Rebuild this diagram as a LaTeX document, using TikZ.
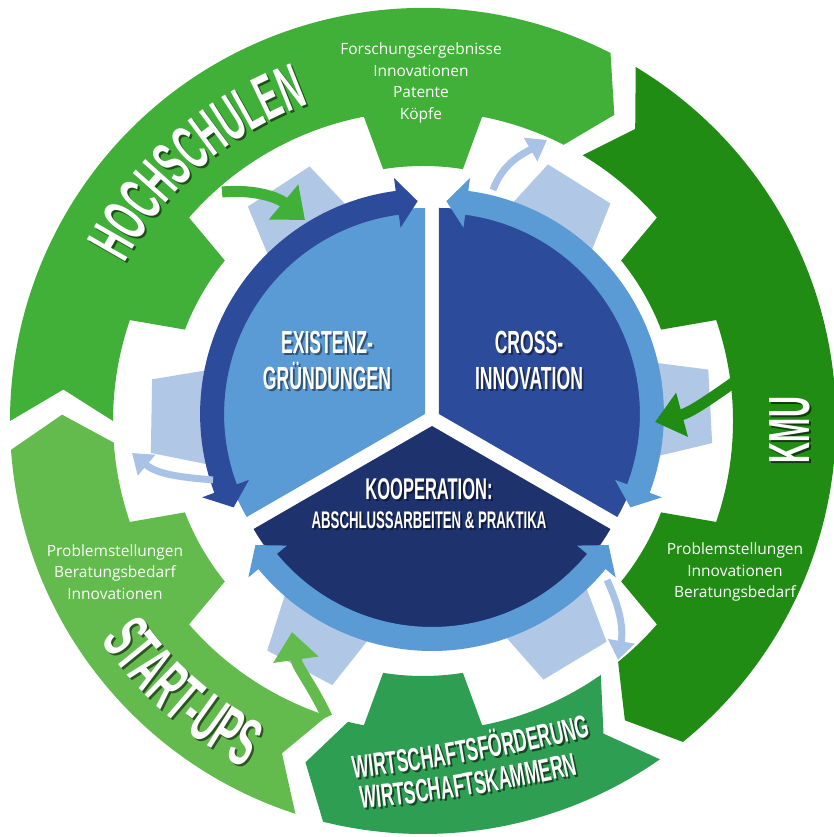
\documentclass[tikz,border=0pt]{standalone}
\usepackage{fontspec}
\setmainfont{Open Sans}
\newfontfamily\osans{Open Sans}
\newfontfamily\bebas[FakeStretch=0.5]{Liberation Sans}
\newfontfamily\bebasw[FakeStretch=0.55]{Liberation Sans}
\usetikzlibrary{arrows.meta,decorations.text}
\definecolor{hoch}{RGB}{64,176,56}
\definecolor{kmu}{RGB}{32,140,20}
\definecolor{wirt}{RGB}{46,158,82}
\definecolor{start}{RGB}{98,187,76}
\definecolor{gear}{RGB}{176,199,230}
\definecolor{lblue}{RGB}{91,155,213}
\definecolor{mblue}{RGB}{45,75,155}
\definecolor{dblue}{RGB}{30,50,110}
\definecolor{arrblue}{RGB}{168,195,230}
\begin{document}
\begin{tikzpicture}[x=1pt,y=1pt,
  small/.style={font=\osans\fontsize{15.5}{21.7}\selectfont, text=white, align=center},
  innertxt/.style={font=\bebasw\bfseries\fontsize{32}{36}\selectfont, text=white, align=center},
  shd/.style={text=black, opacity=0.45},
  garrow/.style={line width=11pt, -{Triangle[width=44pt,length=28pt]}},
  barrow/.style={line width=7pt, arrblue, -{Triangle[width=26pt,length=19pt]}}]
\useasboundingbox (0,0) rectangle (833,837);
\fill[white] (0,0) rectangle (833,837);

% ---------- outer ring (five arrow segments) ----------
\begin{scope}[shift={(423,416)}]
\fill[hoch] (63:413) arc[start angle=63,end angle=180,radius=413] -- (175:361) -- (180:310)
 arc[start angle=180,end angle=161,radius=310] -- (159:255)
 arc[start angle=159,end angle=141,radius=255] -- (139:310)
 arc[start angle=139,end angle=101,radius=310] -- (99:255)
 arc[start angle=99,end angle=81,radius=255] -- (79:310)
 arc[start angle=79,end angle=63,radius=310] -- (58:361) -- cycle;
\fill[kmu] (-51:413) arc[start angle=-51,end angle=59,radius=413] -- (54:361) -- (59:310)
 arc[start angle=59,end angle=41,radius=310] -- (39:255)
 arc[start angle=39,end angle=21,radius=255] -- (19:310)
 arc[start angle=19,end angle=-19,radius=310] -- (-21:255)
 arc[start angle=-21,end angle=-39,radius=255] -- (-41:310)
 arc[start angle=-41,end angle=-51,radius=310] -- (-56:361) -- cycle;
\fill[wirt] (256:413) arc[start angle=256,end angle=305,radius=413] -- (300:361) -- (305:310)
 arc[start angle=305,end angle=281,radius=310] -- (279:255)
 arc[start angle=279,end angle=261,radius=255] -- (259:310)
 arc[start angle=259,end angle=256,radius=310] -- (251:361) -- cycle;
\fill[start] (184:413) arc[start angle=184,end angle=252,radius=413] -- (247:361) -- (252:310)
 arc[start angle=252,end angle=221,radius=310] -- (219:255)
 arc[start angle=219,end angle=201,radius=255] -- (199:310)
 arc[start angle=199,end angle=184,radius=310] -- (179:361) -- cycle;

% curved titles
\begin{scope}[shift={(2,-2)}]
\path[decorate, decoration={text along path, text align=center, text color=hoch!45!black,
  text={|\bebas\bfseries\fontsize{64}{64}\selectfont|HOCHSCHULEN}}]
  (160:337) arc[start angle=160,end angle=102,radius=337];
\path[decorate, decoration={text along path, text align=center, text color=start!45!black,
  text={|\bebas\bfseries\fontsize{68}{68}\selectfont|START-UPS}}]
  (198:390) arc[start angle=198,end angle=259,radius=390];
\end{scope}
\path[decorate, decoration={text along path, text align=center, text color=white,
  text={|\bebas\bfseries\fontsize{64}{64}\selectfont|HOCHSCHULEN}}]
  (160:337) arc[start angle=160,end angle=102,radius=337];
\path[decorate, decoration={text along path, text align=center, text color=white,
  text={|\bebas\bfseries\fontsize{68}{68}\selectfont|START-UPS}}]
  (198:390) arc[start angle=198,end angle=259,radius=390];
\end{scope}

% WIRTSCHAFT lines, gently curved
\begin{scope}[shift={(160.4,1848.6)}]
\path[decorate, decoration={text along path, text align=center, text color=wirt!45!black,
  text={|\bebasw\bfseries\fontsize{32}{32}\selectfont|WIRTSCHAFTSFÖRDERUNG}}]
  ([shift={(2,-2)}]-86:1800) arc[start angle=-86,end angle=-74,radius=1800];
\path[decorate, decoration={text along path, text align=center, text color=white,
  text={|\bebasw\bfseries\fontsize{32}{32}\selectfont|WIRTSCHAFTSFÖRDERUNG}}]
  (-86:1800) arc[start angle=-86,end angle=-74,radius=1800];
\end{scope}
\begin{scope}[shift={(188.4,1819.8)}]
\path[decorate, decoration={text along path, text align=center, text color=wirt!45!black,
  text={|\bebasw\bfseries\fontsize{32}{32}\selectfont|WIRTSCHAFTSKAMMERN}}]
  ([shift={(2,-2)}]-87:1800) arc[start angle=-87,end angle=-75,radius=1800];
\path[decorate, decoration={text along path, text align=center, text color=white,
  text={|\bebasw\bfseries\fontsize{32}{32}\selectfont|WIRTSCHAFTSKAMMERN}}]
  (-87:1800) arc[start angle=-87,end angle=-75,radius=1800];
\end{scope}

% ---------- light blue gear ----------
\begin{scope}[shift={(431,416)}]
\foreach \t in {3,58,123,179,242,301}
  \fill[gear] ({\t-16}:195) -- ({\t-7.5}:282) -- ({\t+7.5}:282) -- ({\t+16}:195) -- cycle;
\end{scope}
\fill[white] (432,419) circle[radius=224];

% ---------- inner circle: three sectors ----------
\begin{scope}[shift={(432,419)}]
\begin{scope}[shift={(150:8)}]
\fill[lblue] (0,0) -- (90:206) arc[start angle=90,end angle=210,radius=206] -- cycle;
\fill[mblue] (97.5:225) arc[start angle=97.5,end angle=200.5,radius=225] -- (200.5:238) -- (206:213)
 -- (200.5:188) -- (200.5:201) arc[start angle=200.5,end angle=97.5,radius=201] -- (97.5:188)
 -- (92:213) -- (97.5:238) -- cycle;
\end{scope}
\begin{scope}[shift={(30:8)}]
\fill[mblue] (0,0) -- (-30:206) arc[start angle=-30,end angle=90,radius=206] -- cycle;
\fill[lblue] (82.5:225) arc[start angle=82.5,end angle=-20.5,radius=225] -- (-20.5:238) -- (-26:213)
 -- (-20.5:188) -- (-20.5:201) arc[start angle=-20.5,end angle=82.5,radius=201] -- (82.5:188)
 -- (88:213) -- (82.5:238) -- cycle;
\end{scope}
\begin{scope}[shift={(270:8)}]
\fill[dblue] (0,0) -- (210:206) arc[start angle=210,end angle=330,radius=206] -- cycle;
\fill[lblue] (219.5:225) arc[start angle=219.5,end angle=320.5,radius=225] -- (320.5:238) -- (326:213)
 -- (320.5:188) -- (320.5:201) arc[start angle=320.5,end angle=219.5,radius=201] -- (219.5:188)
 -- (214:213) -- (219.5:238) -- cycle;
\end{scope}
\end{scope}

% ---------- connectors ----------
\coordinate (h1) at (222,645); \coordinate (h2) at (305,617);
\coordinate (k1) at (740,459); \coordinate (k2) at (655,415);
\coordinate (s1) at (327,120); \coordinate (s2) at (292,205);
\coordinate (b1) at (493,647); \coordinate (b2) at (547,697);
\coordinate (c1) at (213,357); \coordinate (c2) at (132,384);
\coordinate (d1) at (607,257); \coordinate (d2) at (618,177);
\draw[garrow, hoch] (h1) to[out=5, in=140] (h2);
\draw[garrow, kmu] (k1) to[out=215, in=15] (k2);
\draw[garrow, start] (s1) to[out=115, in=-82] (s2);
\draw[barrow] (b1) to[out=70, in=-150] (b2);
\draw[barrow] (c1) to[out=175, in=-40] (c2);
\draw[barrow] (d1) to[out=-65, in=80] (d2);

% ---------- texts ----------
\node[small] (fo) at (421,754) {Forschungsergebnisse\\Innovationen\\Patente\\Köpfe};
\node[small] (kt) at (735,265) {Problemstellungen\\Innovationen\\Beratungsbedarf};
\node[small] (st) at (115,265) {Problemstellungen\\Beratungsbedarf\\Innovationen};

\node[font=\bebas\bfseries\fontsize{58}{58}\selectfont, text=kmu!45!black, rotate=90] at (792,405) {KMU};
\node[font=\bebas\bfseries\fontsize{58}{58}\selectfont, text=white, rotate=90] (kmu) at (790,407) {KMU};

\node[innertxt, shd] at (329,475) {EXISTENZ-\\GRÜNDUNGEN};
\node[innertxt] (ex) at (327,477) {EXISTENZ-\\GRÜNDUNGEN};
\node[innertxt, shd] at (531,475) {CROSS-\\INNOVATION};
\node[innertxt] (cr) at (529,477) {CROSS-\\INNOVATION};
\node[font=\bebasw\bfseries\fontsize{30}{30}\selectfont, shd] at (431,346) {KOOPERATION:};
\node[font=\bebasw\bfseries\fontsize{30}{30}\selectfont, text=white] (ko1) at (429,348) {KOOPERATION:};
\node[font=\bebasw\bfseries\fontsize{24}{24}\selectfont, shd] at (431,315) {ABSCHLUSSARBEITEN \& PRAKTIKA};
\node[font=\bebasw\bfseries\fontsize{24}{24}\selectfont, text=white] (ko2) at (429,317) {ABSCHLUSSARBEITEN \& PRAKTIKA};
\end{tikzpicture}
\end{document}
